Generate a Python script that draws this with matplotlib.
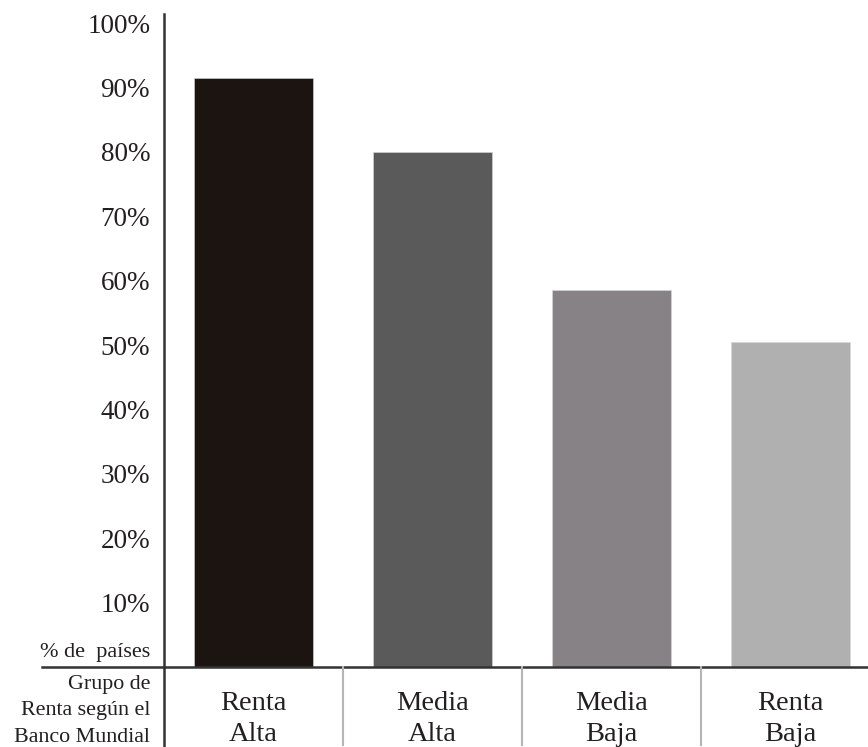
import matplotlib.pyplot as plt
from matplotlib.lines import Line2D

plt.rcParams['font.family'] = ['Liberation Serif', 'DejaVu Serif']

# share of countries per World Bank income group
grupos = ["Renta\nAlta", "Media\nAlta", "Media\nBaja", "Renta\nBaja"]
porcentajes = [91.4, 80.0, 58.5, 50.5]
colores = ["#1c1410", "#5a5a5a", "#878285", "#b0b0b0"]
ticks = [10, 20, 30, 40, 50, 60, 70, 80, 90, 100]

W, H = 868, 747
fig = plt.figure(figsize=(W / 100, H / 100), dpi=100)
ax = fig.add_axes([164 / W, 80 / H, 704 / W, 653 / H])

x = list(range(len(grupos)))
ax.bar(x, porcentajes, width=0.67, color=colores, edgecolor="#d8d8d8", linewidth=0.4)

ax.set_xlim(-0.5, -0.5 + 704 / 179)
ax.set_ylim(0, 101.4)
ax.set_yticks(ticks)
ax.set_yticklabels([f"{t}%" for t in ticks], fontsize=19.5, color="#231f20")
ax.tick_params(axis="y", length=0, pad=10)
ax.set_xticks([])

for s in ["top", "right", "bottom"]:
    ax.spines[s].set_visible(False)
ax.spines["left"].set_color("#333333")
ax.spines["left"].set_linewidth(1.8)

# baseline that runs under the y labels, and the table below it
fig.add_artist(Line2D([42 / W, 1.0], [80 / H, 80 / H], color="#333333", lw=1.8))
fig.add_artist(Line2D([164 / W, 164 / W], [0, 80 / H], color="#333333", lw=1.8))
for i in range(1, len(grupos)):
    xs = (164 + 179 * i) / W
    fig.add_artist(Line2D([xs, xs], [2 / H, 80 / H], color="#b5b5b5", lw=1.5))

for i, g in enumerate(grupos):
    ax.text(i, -0.08, g, transform=ax.get_xaxis_transform(), ha="center", va="center",
            fontsize=20.5, color="#231f20", linespacing=1.3)

fig.text(150 / W, 1 - 652 / H, "% de  países", ha="right", va="center",
         fontsize=16, color="#231f20")
fig.text(150 / W, 1 - 711 / H, "Grupo de\nRenta según el\nBanco Mundial", ha="right",
         va="center", fontsize=15.8, color="#231f20", linespacing=1.55)

fig.savefig("out.png", dpi=100)
